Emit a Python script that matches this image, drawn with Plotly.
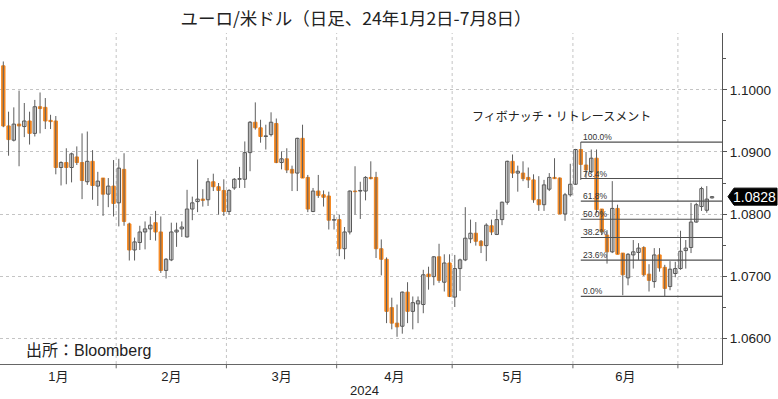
import pandas as pd
import plotly.graph_objects as go

# ---- data (EUR/USD daily) ----
opens = [1.1039,1.0942,1.0919,1.0945,1.0941,1.0950,1.0930,1.0973,1.0972,1.0951,
         1.0950,1.0875,1.0883,1.0875,1.0892,1.0883,1.0852,1.0885,1.0845,1.0858,
         1.0832,1.0845,
         1.0818,1.0872,1.0784,1.0742,1.0754,1.0771,1.0776,1.0786,1.0771,1.0709,
         1.0726,1.0771,1.0776,1.0763,1.0808,1.0820,1.0824,1.0823,1.0852,1.0844,
         1.0838,
         1.0804,1.0842,1.0856,1.0856,1.0899,1.0948,1.0939,1.0925,1.0928,1.0946,
         1.0883,1.0889,1.0872,1.0866,1.0922,1.0859,1.0804,1.0837,1.0831,1.0829,
         1.0790,
         1.0791,1.0744,1.0771,1.0837,1.0837,1.0837,1.0859,1.0859,1.0744,1.0727,
         1.0649,1.0624,1.0619,1.0674,1.0643,1.0655,1.0654,1.0703,1.0699,1.0731,
         1.0690,1.0721,
         1.0666,1.0712,1.0726,1.0760,1.0769,1.0756,1.0749,1.0781,1.0767,1.0791,
         1.0819,1.0885,1.0866,1.0866,1.0859,1.0855,1.0823,1.0815,1.0840,1.0859,
         1.0858,1.0800,1.0831,
         1.0848,1.0904,1.0879,1.0868,1.0890,1.0808,1.0766,1.0739,1.0809,1.0737,
         1.0697,1.0734,1.0738,1.0746,1.0703,1.0691,1.0734,1.0714,1.0683,1.0704,
         1.0712,1.0741,1.0746,1.0787,1.0812,1.0806,1.0826]
highs = [1.1046,1.0965,1.0972,1.0999,1.0979,1.0965,1.0984,1.0996,1.0987,1.0960,
         1.0958,1.0885,1.0906,1.0899,1.0909,1.0930,1.0933,1.0903,1.0868,1.0858,
         1.0858,1.0887,
         1.0889,1.0898,1.0786,1.0762,1.0781,1.0788,1.0796,1.0805,1.0796,1.0729,
         1.0786,1.0786,1.0788,1.0839,1.0828,1.0888,1.0840,1.0858,1.0865,1.0850,
         1.0856,
         1.0840,1.0858,1.0876,1.0917,1.0950,1.0980,1.0952,1.0944,1.0964,1.0954,
         1.0901,1.0906,1.0878,1.0923,1.0944,1.0863,1.0842,1.0863,1.0838,1.0836,
         1.0799,
         1.0799,1.0779,1.0838,1.0877,1.0852,1.0861,1.0885,1.0868,1.0759,1.0730,
         1.0665,1.0654,1.0675,1.0690,1.0667,1.0667,1.0710,1.0715,1.0732,1.0752,
         1.0735,1.0735,
         1.0734,1.0728,1.0811,1.0791,1.0787,1.0758,1.0785,1.0791,1.0807,1.0820,
         1.0886,1.0896,1.0878,1.0885,1.0875,1.0864,1.0861,1.0855,1.0866,1.0890,
         1.0859,1.0834,1.0881,
         1.0905,1.0916,1.0900,1.0904,1.0904,1.0808,1.0774,1.0853,1.0815,1.0737,
         1.0737,1.0758,1.0753,1.0748,1.0719,1.0745,1.0745,1.0718,1.0724,1.0723,
         1.0773,1.0758,1.0818,1.0818,1.0844,1.0845,1.0829]
lows = [1.0940,1.0894,1.0917,1.0877,1.0924,1.0912,1.0925,1.0930,1.0937,1.0937,
        1.0864,1.0846,1.0848,1.0851,1.0879,1.0824,1.0847,1.0823,1.0813,1.0797,
        1.0811,1.0796,
        1.0780,1.0781,1.0725,1.0725,1.0742,1.0743,1.0758,1.0757,1.0705,1.0696,
        1.0724,1.0747,1.0763,1.0762,1.0790,1.0803,1.0812,1.0813,1.0837,1.0799,
        1.0797,
        1.0799,1.0839,1.0842,1.0842,1.0869,1.0936,1.0915,1.0904,1.0925,1.0882,
        1.0872,1.0866,1.0837,1.0837,1.0858,1.0803,1.0803,1.0826,1.0812,1.0775,
        1.0775,
        1.0732,1.0727,1.0767,1.0799,1.0792,1.0822,1.0856,1.0729,1.0701,1.0624,
        1.0614,1.0602,1.0607,1.0624,1.0614,1.0624,1.0640,1.0678,1.0685,1.0689,
        1.0675,1.0666,
        1.0650,1.0676,1.0724,1.0753,1.0749,1.0737,1.0724,1.0766,1.0766,1.0782,
        1.0815,1.0858,1.0836,1.0853,1.0842,1.0818,1.0805,1.0805,1.0837,1.0857,
        1.0800,1.0789,1.0828,
        1.0847,1.0855,1.0858,1.0866,1.0801,1.0766,1.0720,1.0737,1.0735,1.0669,
        1.0685,1.0712,1.0726,1.0700,1.0675,1.0681,1.0707,1.0667,1.0677,1.0698,
        1.0710,1.0712,1.0737,1.0786,1.0805,1.0802,1.0825]
closes = [1.0942,1.0920,1.0945,1.0942,1.0950,1.0930,1.0973,1.0970,1.0950,1.0949,
          1.0875,1.0883,1.0875,1.0897,1.0883,1.0854,1.0885,1.0846,1.0853,1.0832,
          1.0845,1.0817,
          1.0874,1.0788,1.0742,1.0755,1.0771,1.0776,1.0782,1.0771,1.0709,1.0727,
          1.0771,1.0774,1.0779,1.0808,1.0818,1.0824,1.0822,1.0852,1.0844,1.0838,
          1.0804,
          1.0838,1.0856,1.0857,1.0899,1.0948,1.0939,1.0925,1.0926,1.0948,1.0883,
          1.0889,1.0871,1.0866,1.0922,1.0858,1.0808,1.0837,1.0830,1.0827,1.0790,
          1.0791,
          1.0744,1.0771,1.0837,1.0836,1.0838,1.0859,1.0857,1.0744,1.0727,1.0643,
          1.0624,1.0618,1.0674,1.0643,1.0657,1.0660,1.0702,1.0699,1.0731,1.0693,
          1.0721,1.0667,
          1.0712,1.0726,1.0761,1.0769,1.0756,1.0749,1.0782,1.0771,1.0791,1.0819,
          1.0885,1.0866,1.0869,1.0857,1.0855,1.0823,1.0815,1.0847,1.0859,1.0857,
          1.0800,1.0831,1.0848,
          1.0904,1.0880,1.0871,1.0890,1.0807,1.0772,1.0739,1.0809,1.0735,1.0702,
          1.0735,1.0739,1.0745,1.0702,1.0693,1.0734,1.0713,1.0680,1.0711,1.0712,
          1.0740,1.0745,1.0787,1.0815,1.0841,1.0824,1.0828]

month_labels = ["1月", "2月", "3月", "4月", "5月", "6月"]
fib_ratios = [1.0, 0.764, 0.618, 0.5, 0.382, 0.236, 0.0]
fib_texts = ["100.0%", "76.4%", "61.8%", "50.0%", "38.2%", "23.6%", "0.0%"]
fib_start = "2024-06-04"
last_price = closes[-1]

# ---- derived ----
n = len(opens)
dates = pd.bdate_range("2024-01-02", periods=n)
idx = list(range(n))

ORANGE = "#F5871F"
WICK = "#5e5e5e"
BODY_EDGE = "#555555"
FONT = "Liberation Sans, Noto Sans CJK JP, sans-serif"

wx, wy = [], []
for i in idx:
    wx += [i, i, None]
    wy += [lows[i], highs[i], None]

base, height, fill, edge = [], [], [], []
for i in idx:
    lo_b = min(opens[i], closes[i])
    hi_b = max(opens[i], closes[i])
    base.append(lo_b)
    height.append(max(hi_b - lo_b, 0.00004))
    up = closes[i] >= opens[i]
    fill.append("white" if up else ORANGE)
    edge.append(BODY_EDGE if up else ORANGE)

fig = go.Figure()
fig.add_trace(go.Scatter(x=wx, y=wy, mode="lines",
                         line=dict(color=WICK, width=1), hoverinfo="skip"))
fig.add_trace(go.Bar(x=idx, y=height, base=base, width=0.64,
                     marker=dict(color=fill, line=dict(color=edge, width=1)),
                     hoverinfo="skip"))

xmin, xmax = -0.63, 136.9
ymin, ymax = 1.05581, 1.10919

# month boundaries / centres
months = [d.month for d in dates]
bounds, centers = [], []
start = 0
for i in range(1, n + 1):
    if i == n or months[i] != months[i - 1]:
        if i < n:
            bounds.append(i - 0.5)
        if len(centers) < len(month_labels):
            centers.append((start + i - 1) / 2)
        start = i

shapes = []
for b in bounds:
    shapes.append(dict(type="line", xref="x", yref="paper", x0=b, x1=b, y0=0, y1=1,
                       line=dict(color="#c4c4c4", width=1, dash="dot"), layer="below"))
    shapes.append(dict(type="line", xref="x", yref="paper", x0=b, x1=b, y0=0, y1=-0.013,
                       line=dict(color="#666", width=1)))

# fibonacci
fi = list(dates).index(pd.Timestamp(fib_start))
hi = highs[fi]
lo = min(lows[fi:])
annotations = []
for r, t in zip(fib_ratios, fib_texts):
    lv = lo + r * (hi - lo)
    shapes.append(dict(type="line", xref="x", yref="y", x0=fi, x1=xmax, y0=lv, y1=lv,
                       line=dict(color="#505050", width=1.2)))
    annotations.append(dict(x=fi, y=lv, xref="x", yref="y", text=t, showarrow=False,
                            xanchor="left", yanchor="bottom", xshift=0, yshift=-2,
                            font=dict(size=8.5, color="#333", family=FONT)))

# last price tag
px_per_unit = 331 / (ymax - ymin)
h = 8.5 / px_per_unit
tip = 1 + 6 / 722
bx = 1 + 12 / 722
rx = 1 + 55 / 722
shapes.append(dict(type="path", xref="paper", yref="y",
                   path=f"M {tip},{last_price} L {bx},{last_price + h} L {rx},{last_price + h} "
                        f"L {rx},{last_price - h} L {bx},{last_price - h} Z",
                   fillcolor="black", line=dict(color="black", width=1)))
annotations.append(dict(x=1 + 33 / 722, y=last_price, xref="paper", yref="y",
                        text=f"{last_price:.4f}", showarrow=False, xanchor="center",
                        yanchor="middle", font=dict(size=14, color="white", family=FONT)))

annotations += [
    dict(x=561 / 722, y=(364 - 115) / 331, xref="paper", yref="paper",
         text="フィボナッチ・リトレースメント", showarrow=False,
         xanchor="center", yanchor="middle",
         font=dict(size=12, color="#222", family="Noto Sans CJK JP")),
    dict(x=24 / 722, y=(364 - 350) / 331, xref="paper", yref="paper",
         text="出所：Bloomberg", showarrow=False, xanchor="left", yanchor="middle",
         font=dict(size=16, color="#222", family=FONT)),
    dict(x=365 / 722, y=(364 - 390) / 331, xref="paper", yref="paper",
         text="2024", showarrow=False, xanchor="center", yanchor="middle",
         font=dict(size=13, color="#222", family=FONT)),
]

fig.update_layout(
    width=778, height=399,
    margin=dict(l=0, r=56, t=33, b=35, autoexpand=False),
    paper_bgcolor="white", plot_bgcolor="white",
    showlegend=False, barmode="overlay", hovermode=False,
    title=dict(text="ユーロ/米ドル（日足、24年1月2日-7月8日）", x=356 / 778, y=1 - 19 / 399,
               xanchor="center", yanchor="middle",
               font=dict(size=17.5, color="#222", family="Noto Sans CJK JP")),
    shapes=shapes, annotations=annotations,
    xaxis=dict(range=[xmin, xmax], showgrid=False, zeroline=False, showline=True,
               linecolor="#666", linewidth=1, tickmode="array", tickvals=centers,
               ticktext=month_labels, ticks="", automargin=False,
               tickfont=dict(size=13, color="#222", family=FONT)),
    yaxis=dict(range=[ymin, ymax], side="right", dtick=0.01, tick0=1.06, tickformat=".4f",
               showgrid=True, gridcolor="#c4c4c4", griddash="dot", gridwidth=1,
               zeroline=False, showline=True, linecolor="#555", linewidth=1,
               ticks="outside", ticklen=4, tickcolor="#555", automargin=False,
               minor=dict(dtick=0.005, tick0=1.06, ticks="outside", ticklen=3,
                          tickcolor="#555", showgrid=False),
               tickfont=dict(size=13.5, color="#222", family=FONT)),
)

fig.write_html("out.html", config={"displayModeBar": False},
               post_script="document.body.style.margin='0';document.body.style.overflow='hidden';")
